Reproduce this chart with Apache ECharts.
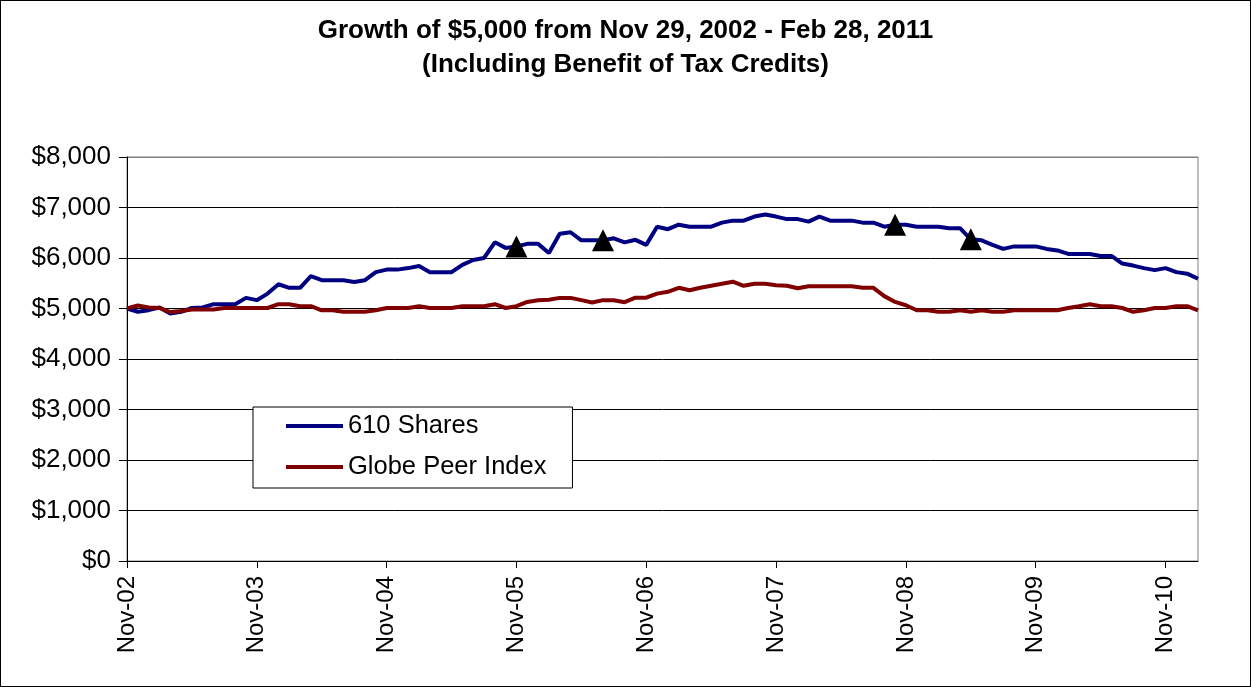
<!DOCTYPE html>
<html>
<head>
<meta charset="utf-8">
<title>Growth of $5,000</title>
<script src="https://cdn.jsdelivr.net/npm/echarts@6/dist/echarts.min.js"></script>
<style>
  html, body { margin: 0; padding: 0; background: #fff; }
  #chart { width: 1251px; height: 687px; box-sizing: border-box; border: 1px solid #000; }
</style>
</head>
<body>
<div id="chart"></div>
<script>
// month labels, Nov-02 .. Feb-11 (100 months)
var monthNames = ['Jan','Feb','Mar','Apr','May','Jun','Jul','Aug','Sep','Oct','Nov','Dec'];
var startYear = 2002, startMonth = 10, monthCount = 100;
var categories = [];
for (var i = 0; i < monthCount; i++) {
  var mIdx = (startMonth + i) % 12;
  var yr = startYear + Math.floor((startMonth + i) / 12);
  categories.push(monthNames[mIdx] + '-' + String(yr).slice(2));
}

var shares610 = [
  5000, 4935, 4967, 5020, 4900, 4935, 5010, 5020, 5085, 5085,
  5085, 5210, 5165, 5295, 5480, 5410, 5410, 5640, 5560, 5560,
  5560, 5525, 5560, 5720, 5770, 5770, 5800, 5840, 5720, 5720,
  5720, 5865, 5960, 6000, 6310, 6200, 6230, 6280, 6280, 6100,
  6480, 6510, 6350, 6350, 6350, 6390, 6310, 6360, 6260, 6620,
  6570, 6660, 6620, 6620, 6620, 6700, 6740, 6740, 6820, 6860,
  6820, 6770, 6770, 6720, 6820, 6740, 6740, 6740, 6700, 6700,
  6620, 6660, 6660, 6620, 6620, 6620, 6590, 6590, 6370, 6350,
  6260, 6180, 6230, 6230, 6230, 6180, 6150, 6080, 6080, 6080,
  6040, 6040, 5890, 5850, 5800, 5760, 5800, 5720, 5690, 5590
];

var globePeer = [
  5000, 5060, 5020, 5010, 4930, 4950, 4980, 4980, 4980, 5010,
  5010, 5010, 5010, 5010, 5085, 5085, 5045, 5045, 4965, 4965,
  4935, 4935, 4935, 4965, 5010, 5010, 5010, 5045, 5010, 5010,
  5010, 5045, 5045, 5045, 5085, 5010, 5045, 5130, 5165, 5175,
  5210, 5210, 5165, 5120, 5165, 5165, 5125, 5215, 5215, 5295,
  5330, 5410, 5360, 5410, 5450, 5490, 5530, 5450, 5490, 5490,
  5460, 5450, 5400, 5440, 5440, 5440, 5440, 5440, 5410, 5410,
  5245, 5130, 5065, 4965, 4965, 4935, 4935, 4965, 4935, 4965,
  4935, 4935, 4965, 4965, 4965, 4965, 4965, 5010, 5045, 5085,
  5045, 5045, 5010, 4935, 4965, 5010, 5010, 5045, 5045, 4965
];

// black triangle markers on the 610 Shares line
var markerIdx = [36, 44, 71, 78];
var markerVals = [6230, 6350, 6660, 6370];

var yTicks = [0, 1000, 2000, 3000, 4000, 5000, 6000, 7000, 8000];
var titleLines = ['Growth of $5,000 from Nov 29, 2002 - Feb 28, 2011', '(Including Benefit of Tax Credits)'];

var FONT = '"Liberation Sans", Arial, sans-serif';

var markerData = [];
for (var k = 0; k < markerIdx.length; k++) {
  markerData.push([markerIdx[k], markerVals[k]]);
}

var titleStyle = {
  fontFamily: FONT,
  fontSize: 26,
  fontWeight: 'bold',
  color: '#000'
};

var chart = echarts.init(document.getElementById('chart'));
chart.setOption({
  animation: false,
  backgroundColor: '#fff',
  title: [
    { text: titleLines[0], left: 'center', top: 17, padding: 0, textStyle: titleStyle },
    { text: titleLines[1], left: 'center', top: 51, padding: 0, textStyle: titleStyle }
  ],
  legend: {
    data: ['610 Shares', 'Globe Peer Index'],
    orient: 'vertical',
    left: 252,
    top: 406,
    padding: [5, 26, 7, 33],
    itemGap: 13,
    itemWidth: 57,
    itemHeight: 4,
    icon: 'rect',
    backgroundColor: '#fff',
    borderColor: '#000',
    borderWidth: 1,
    borderRadius: 0,
    textStyle: {
      fontFamily: FONT,
      fontSize: 25.5,
      color: '#000',
      lineHeight: 28
    }
  },
  grid: {
    left: 126,
    top: 156,
    right: 52,
    bottom: 125,
    show: true,
    borderColor: '#808080',
    borderWidth: 1,
    containLabel: false
  },
  xAxis: {
    type: 'category',
    data: categories,
    boundaryGap: false,
    axisLine: { lineStyle: { color: '#000', width: 1 } },
    axisTick: { interval: 11, length: 7, lineStyle: { color: '#000' } },
    axisLabel: {
      interval: 11,
      rotate: 90,
      margin: 15,
      fontFamily: FONT,
      fontSize: 24,
      color: '#000'
    },
    splitLine: { show: false }
  },
  yAxis: {
    type: 'value',
    min: yTicks[0],
    max: yTicks[yTicks.length - 1],
    interval: 1000,
    axisLine: { show: true, lineStyle: { color: '#000', width: 1 } },
    axisTick: { show: true, length: 8, lineStyle: { color: '#000' } },
    axisLabel: {
      margin: 16,
      fontFamily: FONT,
      fontSize: 26,
      color: '#000',
      formatter: function (v) { return '$' + v.toLocaleString('en-US'); }
    },
    splitLine: {
      show: true,
      lineStyle: { color: ['#000', '#000', '#000', '#000', '#000', '#000', '#000', '#000', '#808080'], width: 1 }
    }
  },
  series: [
    {
      name: '610 Shares',
      type: 'line',
      data: shares610,
      showSymbol: false,
      symbol: 'none',
      color: '#000080',
      lineStyle: { color: '#000080', width: 4 },
      z: 3
    },
    {
      name: 'Globe Peer Index',
      type: 'line',
      data: globePeer,
      showSymbol: false,
      symbol: 'none',
      color: '#800000',
      lineStyle: { color: '#800000', width: 4 },
      z: 4
    },
    {
      name: 'markers',
      type: 'scatter',
      data: markerData,
      symbol: 'triangle',
      symbolSize: 22,
      itemStyle: { color: '#000', opacity: 1 },
      z: 5
    }
  ]
});
</script>
</body>
</html>
